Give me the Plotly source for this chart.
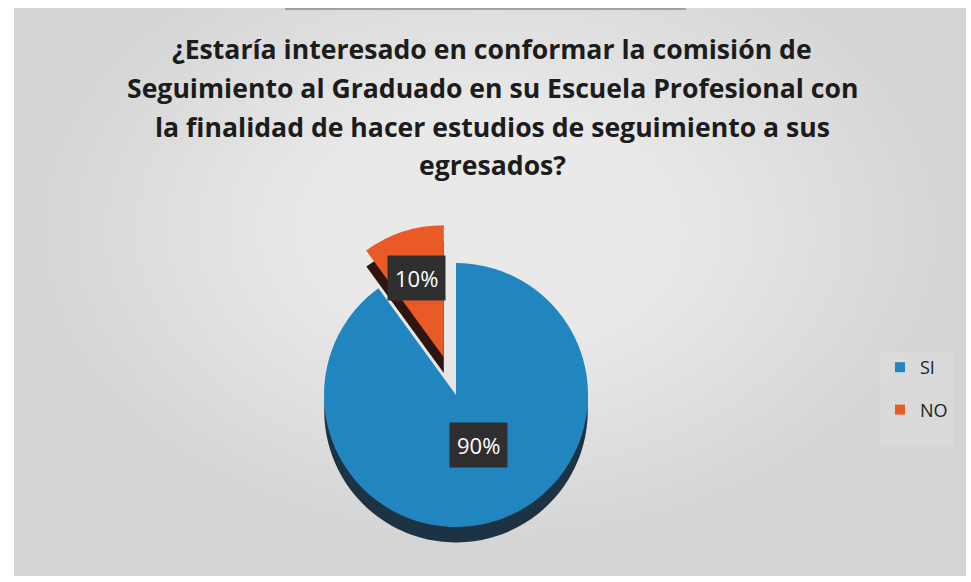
import plotly.graph_objects as go

labels = ["SI", "NO"]
values = [90, 10]
colors = ["#2185c0", "#ea5a27"]
depth_colors = ["#1d3344", "#2e1610"]
pct_labels = ["90%", "10%"]
title_lines = [
    "¿Estaría interesado en conformar la comisión de",
    "Seguimiento al Graduado en su Escuela Profesional con",
    "la finalidad de hacer estudios de seguimiento a sus",
    "egresados?",
]

W, H = 971, 582
FONT = "Open Sans"

def px_x(x):
    return x / W

def px_y(y):
    return 1 - y / H

R = 132
PULL = 0.30
CX, CY = 456, 395   # pixel centre of the pie top face
DEPTH = 16
half = R * (1 + PULL)

def dom(cx, cy):
    yb = H - cy
    return dict(x=[(cx - half) / W, (cx + half) / W], y=[max(0, (yb - half) / H), (yb + half) / H])

fig = go.Figure()

# 3D depth (darker copy, shifted down)
fig.add_trace(go.Pie(
    labels=labels, values=values, sort=False, direction="clockwise", rotation=0,
    pull=[0, PULL], marker=dict(colors=depth_colors, line=dict(width=0)),
    textinfo="none", hoverinfo="skip", showlegend=False,
    domain=dom(CX, CY + DEPTH),
))
# top face
fig.add_trace(go.Pie(
    labels=labels, values=values, sort=False, direction="clockwise", rotation=0,
    pull=[0, PULL], marker=dict(colors=colors, line=dict(width=0)),
    textinfo="none", hoverinfo="label+percent", showlegend=False,
    domain=dom(CX, CY),
))

# legend entries
for lab, col in zip(labels, colors):
    fig.add_trace(go.Scatter(
        x=[None], y=[None], mode="markers", name=lab, legendgroup=lab,
        marker=dict(symbol="square", size=10, color=col),
    ))

shapes = [
    dict(type="rect", xref="paper", yref="paper", x0=px_x(14), x1=px_x(966),
         y0=px_y(576), y1=px_y(8), fillcolor="#d4d4d4", line=dict(width=0), layer="below"),
]
# soft radial glow toward the upper centre
N = 30
for i in range(N):
    f = 1 - i / N
    rx, ry = 440 * f + 30, 300 * f + 20
    cx, cy = 490, 230
    shapes.append(dict(
        type="circle", xref="paper", yref="paper",
        x0=px_x(cx - rx), x1=px_x(cx + rx),
        y0=px_y(cy + ry), y1=px_y(cy - ry),
        fillcolor="rgba(255,255,255,0.045)", line=dict(width=0), layer="below"))
shapes += [
    dict(type="rect", xref="paper", yref="paper", x0=px_x(880), x1=px_x(955),
         y0=px_y(447), y1=px_y(352), fillcolor="rgba(255,255,255,0.12)", line=dict(width=0), layer="below"),
    dict(type="line", xref="paper", yref="paper", x0=px_x(285), x1=px_x(686),
         y0=px_y(9), y1=px_y(9), line=dict(color="#666666", width=1), layer="below"),
]

annotations = []
title_y = [49, 88, 127, 165]
for line, yy in zip(title_lines, title_y):
    annotations.append(dict(
        text=f"<b>{line}</b>", x=px_x(492), y=px_y(yy), xref="paper", yref="paper",
        xanchor="center", yanchor="middle", showarrow=False,
        font=dict(family=FONT, size=26.6, color="#1c1c1c"),
    ))

label_pos = [(478, 445), (416, 278)]
for txt, (lx, ly) in zip(pct_labels, label_pos):
    annotations.append(dict(
        text=txt, x=px_x(lx), y=px_y(ly), xref="paper", yref="paper",
        xanchor="center", yanchor="middle", showarrow=False,
        font=dict(family=FONT, size=22, color="#ffffff"),
        bgcolor="#2f2f2f", borderpad=7,
    ))

fig.update_layout(
    width=W, height=H,
    margin=dict(l=0, r=0, t=0, b=0, autoexpand=False),
    paper_bgcolor="#ffffff", plot_bgcolor="rgba(0,0,0,0)",
    xaxis=dict(visible=False), yaxis=dict(visible=False),
    shapes=shapes, annotations=annotations,
    showlegend=True,
    legend=dict(x=px_x(880), y=px_y(349), xanchor="left", yanchor="top",
                font=dict(family=FONT, size=18, color="#222222"),
                bgcolor="rgba(0,0,0,0)", tracegroupgap=16, itemwidth=30),
)

fig.write_html("out.html", config={"displayModeBar": False},
               post_script="document.body.style.margin='0';document.body.style.overflow='hidden';")
